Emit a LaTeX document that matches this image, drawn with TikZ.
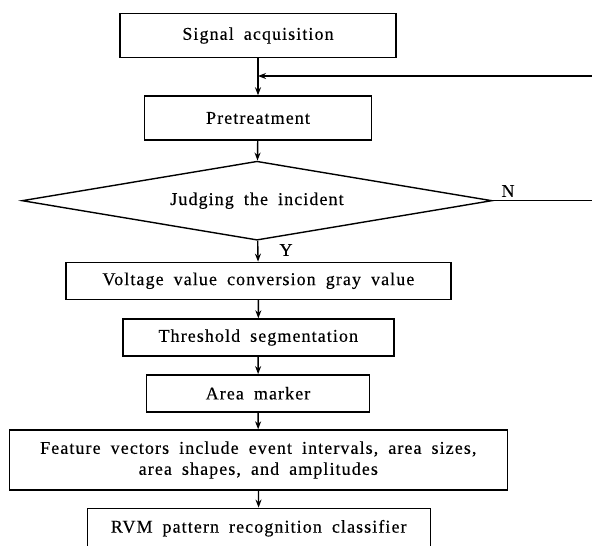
\documentclass[tikz,border=0pt]{standalone}
\usepackage{fontspec}
\setmainfont{Liberation Serif}[LetterSpace=6,WordSpace=1.8,FakeBold=0.4]
\usetikzlibrary{shapes.geometric,arrows.meta}

\begin{document}
\begin{tikzpicture}[
    x=1pt, y=-1pt,
    >={Stealth[length=8pt,width=6pt]},
    box/.style={rectangle, draw, line width=1.4pt, inner sep=0pt, text centered, font=\fontsize{18}{21}\selectfont},
    decision/.style={diamond, draw, line width=1.4pt, inner sep=0pt, aspect=6, font=\fontsize{18}{21}\selectfont},
    flow/.style={line width=1.4pt, ->}
]

\useasboundingbox (0,0) rectangle (592,546);
\clip (0,0) rectangle (592,546);

% boxes
\node[box, minimum width=276pt, minimum height=44pt] (sig) at (258, 35.5) {Signal acquisition};
\node[box, minimum width=227pt, minimum height=44pt] (pre) at (258, 118) {Pretreatment};
\node[decision, minimum width=470pt, minimum height=79pt] (judge) at (257, 200.7) {Judging the incident};
\node[box, minimum width=385pt, minimum height=37pt] (volt) at (258.4, 280.8) {Voltage value conversion gray value};
\node[box, minimum width=271pt, minimum height=37pt] (thr) at (258.3, 337.5) {Threshold segmentation};
\node[box, minimum width=223pt, minimum height=37pt] (area) at (258, 393.3) {Area marker};
\node[box, minimum width=498pt, minimum height=60pt, align=center] (feat) at (258.3, 460)
    {Feature vectors include event intervals, area sizes,\\area shapes, and amplitudes};
\node[box, minimum width=343pt, minimum height=44pt] (rvm) at (258.7, 530.3) {\raisebox{8pt}{RVM pattern recognition classifier}};

% connectors
\coordinate (loop) at (sig.south |- 0,76);
\draw[flow] (sig) -- (pre);
\draw[flow] (pre) -- (judge);
\draw[flow] (judge) -- (volt);
\draw[flow] (volt) -- (thr);
\draw[flow] (thr) -- (area);
\draw[flow] (area) -- (feat);
\draw[flow] (feat) -- (rvm);
\draw[flow] (judge.east) -- (600, 200.7) -- (600, 76) -- (loop);

\node[font=\fontsize{18}{20}\selectfont] (no) at (508, 191) {N};
\node[font=\fontsize{18}{20}\selectfont] (yes) at (286, 250) {Y};

\end{tikzpicture}
\end{document}
